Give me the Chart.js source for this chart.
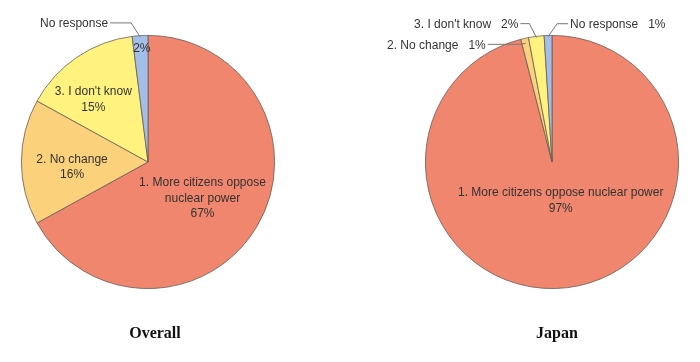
<!DOCTYPE html>
<html>
<head>
<meta charset="utf-8">
<script src="https://cdn.jsdelivr.net/npm/chart.js@4.4.0/dist/chart.umd.min.js"></script>
<style>
  html, body { margin: 0; padding: 0; background: #fff; }
  #wrap { position: relative; width: 700px; height: 362px; overflow: hidden; }
  .pane { position: absolute; top: 0; width: 350px; height: 362px; }
  .cap { position: absolute; top: 324px; width: 120px; margin-left: -60px; text-align: center;
         font-family: 'Liberation Serif', serif; font-weight: bold; font-size: 16px; color: #111; }
</style>
</head>
<body>
<div id="wrap">
  <div class="pane" style="left:0"><canvas id="overallChart"></canvas></div>
  <div class="pane" style="left:350px"><canvas id="japanChart"></canvas></div>
  <div class="cap" style="left:155px">Overall</div>
  <div class="cap" style="left:557px">Japan</div>
</div>
<script>
// Dữ liệu
const categories = ['1. More citizens oppose nuclear power', '2. No change', "3. I don't know", 'No response'];
const overallValues = [67, 16, 15, 2];
const japanValues = [97, 1, 2, 1];
const sliceColors = ['#EF866D', '#FBD17B', '#FFF27F', '#A4BFE7'];

// cách hiển thị nhãn cho từng lát (inside: trong lát, outside: có đường dẫn)
const overallLabels = [
    { mode: 'inside', lines: ['1. More citizens oppose', 'nuclear power', '67%'], frac: 0.5, dx: 0, dy: 4 },
    { mode: 'inside', lines: ['2. No change', '16%'], frac: 0.6, dx: 0, dy: 5 },
    { mode: 'inside', lines: ["3. I don't know", '15%'], frac: 0.67, dx: -7, dy: 8 },
    { mode: 'both', lines: ['2%'], frac: 0.9, dx: 1, dy: 0, text: 'No response', elbow: [-9, -14], end: [-30, -14], anchor: 0.99 }
];
const japanLabels = [
    { mode: 'inside', lines: ['1. More citizens oppose nuclear power', '97%'], frac: 0.3, dx: 4, dy: 1 },
    { mode: 'outside', text: '2. No change   1%', elbow: [-6, 1], end: [-38, 1], anchor: 0.96, align: 'right' },
    { mode: 'outside', text: "3. I don't know   2%", elbow: [-7, -14], end: [-16, -14], anchor: 0.99, align: 'right' },
    { mode: 'outside', text: 'No response   1%', elbow: [9, -13], end: [20, -13], anchor: 0.99, align: 'left' }
];

const labelFont = "12px 'Liberation Sans', Arial, sans-serif";

function makeLabelPlugin(cfg) {
    return {
        id: 'sliceLabels',
        afterDatasetsDraw(chart) {
            const ctx = chart.ctx;
            const meta = chart.getDatasetMeta(0);
            ctx.save();
            ctx.font = labelFont;
            ctx.fillStyle = '#333';
            ctx.textBaseline = 'middle';
            meta.data.forEach((arc, i) => {
                const p = arc.getProps(['x', 'y', 'startAngle', 'endAngle', 'outerRadius'], true);
                const mid = (p.startAngle + p.endAngle) / 2;
                const c = cfg[i];
                if (c.mode === 'inside' || c.mode === 'both') {
                    const r = p.outerRadius * c.frac;
                    const cx = p.x + Math.cos(mid) * r + c.dx;
                    const cy = p.y + Math.sin(mid) * r + c.dy;
                    ctx.textAlign = 'center';
                    const lh = 15.5;
                    const y0 = cy - (c.lines.length - 1) * lh / 2;
                    c.lines.forEach((t, k) => ctx.fillText(t, cx, y0 + k * lh));
                }
                if (c.mode === 'outside' || c.mode === 'both') {
                    const r = p.outerRadius * c.anchor;
                    const ax = p.x + Math.cos(mid) * r;
                    const ay = p.y + Math.sin(mid) * r;
                    ctx.strokeStyle = '#777';
                    ctx.lineWidth = 1;
                    ctx.beginPath();
                    ctx.moveTo(ax, ay);
                    ctx.lineTo(ax + c.elbow[0], ay + c.elbow[1]);
                    ctx.lineTo(ax + c.end[0], ay + c.end[1]);
                    ctx.stroke();
                    const right = c.end[0] < 0;
                    ctx.textAlign = right ? 'right' : 'left';
                    ctx.fillText(c.text, ax + c.end[0] + (right ? -2 : 2), ay + c.end[1] + 1);
                }
            });
            ctx.restore();
        }
    };
}

function drawPie(id, values, labelCfg, padding) {
    new Chart(document.getElementById(id).getContext('2d'), {
        type: 'pie',
        data: {
            labels: categories,
            datasets: [{ data: values, backgroundColor: sliceColors, borderColor: '#6a5d57', borderWidth: 0.8, hoverOffset: 0 }]
        },
        options: {
            responsive: true,
            maintainAspectRatio: false,
            animation: false,
            layout: { padding: padding },
            plugins: { legend: { display: false }, tooltip: { enabled: false } }
        },
        plugins: [makeLabelPlugin(labelCfg)]
    });
}

drawPie('overallChart', overallValues, overallLabels, { left: 21, top: 35, right: 75, bottom: 73 });
drawPie('japanChart', japanValues, japanLabels, { left: 75, top: 35, right: 21, bottom: 73 });
</script>
</body>
</html>
